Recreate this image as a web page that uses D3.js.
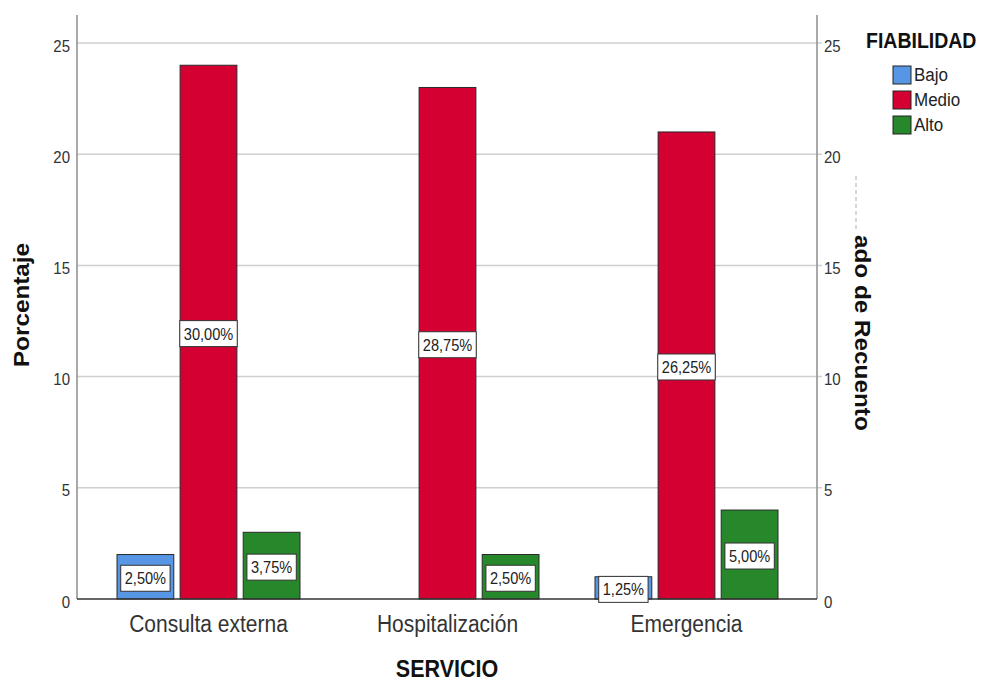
<!DOCTYPE html>
<html>
<head>
<meta charset="utf-8">
<script src="https://cdn.jsdelivr.net/npm/d3@7"></script>
<style>
  body { margin: 0; background: #fff; }
  svg { display: block; font-family: "Liberation Sans", Arial, sans-serif; }
</style>
</head>
<body>
<svg id="chart" width="993" height="682"></svg>
<script>
// Counts per service and reliability level (total n = 80)
const servicios = ["Consulta externa", "Hospitalización", "Emergencia"];
const niveles = ["Bajo", "Medio", "Alto"];
const bajo = [2, 0, 1];
const medio = [24, 23, 21];
const alto = [3, 2, 4];
const etiquetasBajo = ["2,50%", null, "1,25%"];
const etiquetasMedio = ["30,00%", "28,75%", "26,25%"];
const etiquetasAlto = ["3,75%", "2,50%", "5,00%"];
const yTicks = [0, 5, 10, 15, 20, 25];
const colores = ["#5696e4", "#d50032", "#27872b"];

const series = [bajo, medio, alto];
const etiquetas = [etiquetasBajo, etiquetasMedio, etiquetasAlto];

const svg = d3.select("#chart");
const axisLeftX = 77, axisRightX = 817, baseY = 599, topY = 43;
const SY = 1.13; // text is drawn slightly taller than wide

const x = d3.scaleBand().domain(servicios).range([89, 806]);
const sub = d3.scaleBand().domain(niveles).range([0, 183]).paddingInner(0.1);
const y = d3.scaleLinear().domain([0, 25]).range([baseY, topY]);

function label(parent, px, py, txt, size, opts = {}) {
  const rot = opts.rotate ? ` rotate(${opts.rotate})` : "";
  return parent.append("text")
    .attr("transform", `translate(${px},${py}) scale(1,${SY})${rot}`)
    .attr("text-anchor", opts.anchor || "start")
    .attr("font-size", size)
    .attr("font-weight", opts.bold ? "bold" : "normal")
    .attr("fill", opts.fill || "#333")
    .text(txt);
}

// gridlines
svg.append("g").selectAll("line").data(yTicks.filter(d => d > 0)).join("line")
  .attr("x1", axisLeftX).attr("x2", axisRightX + 5)
  .attr("y1", d => y(d)).attr("y2", d => y(d))
  .attr("stroke", "#cfcfcf").attr("stroke-width", 1.5);

// axis lines
svg.append("line").attr("x1", axisLeftX).attr("x2", axisLeftX)
  .attr("y1", 15).attr("y2", baseY).attr("stroke", "#949494").attr("stroke-width", 1.6);
svg.append("line").attr("x1", axisRightX).attr("x2", axisRightX)
  .attr("y1", 15).attr("y2", baseY).attr("stroke", "#949494").attr("stroke-width", 1.6);

// tick labels, left and right
const tl = svg.append("g");
yTicks.forEach(d => {
  label(tl, 70, y(d) + 8.5, d, 15, { anchor: "end" });
  label(tl, 824, y(d) + 8.5, d, 15, { anchor: "start" });
});

// bars
const groupOffset = (x.bandwidth() - 183) / 2;
series.forEach((vals, si) => {
  const g = svg.append("g");
  vals.forEach((v, ci) => {
    if (v <= 0) return;
    const bx = x(servicios[ci]) + groupOffset + sub(niveles[si]);
    g.append("rect")
      .attr("x", bx).attr("y", y(v))
      .attr("width", sub.bandwidth()).attr("height", baseY - y(v))
      .attr("fill", colores[si]).attr("stroke", "#2a2a2a").attr("stroke-width", 1);
  });
});

// baseline
svg.append("line").attr("x1", axisLeftX).attr("x2", axisRightX)
  .attr("y1", baseY).attr("y2", baseY).attr("stroke", "#333").attr("stroke-width", 1.5);

// value labels in boxes
series.forEach((vals, si) => {
  vals.forEach((v, ci) => {
    const txt = etiquetas[si][ci];
    if (!txt) return;
    const cx = x(servicios[ci]) + groupOffset + sub(niveles[si]) + sub.bandwidth() / 2;
    const cy = (y(v) + baseY) / 2 + 1.5;
    const g = svg.append("g");
    const t = label(g, cx, cy + 6, txt, 14.6, { anchor: "middle", fill: "#222" });
    const w = t.node().getComputedTextLength() + 8;
    g.insert("rect", "text")
      .attr("x", cx - w / 2).attr("y", cy - 13).attr("width", w).attr("height", 26)
      .attr("fill", "#fff").attr("stroke", "#333").attr("stroke-width", 1);
  });
});

// category labels
const cl = svg.append("g");
servicios.forEach(d => label(cl, x(d) + x.bandwidth() / 2, 632, d, 21, { anchor: "middle" }));

// axis titles
label(svg, 447, 677, "SERVICIO", 21.5, { anchor: "middle", bold: true, fill: "#111" });
label(svg, 29, 305, "Porcentaje", 21.5, { anchor: "middle", bold: true, fill: "#111", rotate: -90 });
label(svg, 855, 235, "ado de Recuento", 21.5, { anchor: "start", bold: true, fill: "#111", rotate: 90 });
svg.append("line").attr("x1", 856).attr("x2", 856).attr("y1", 176).attr("y2", 232)
  .attr("stroke", "#b0b0b0").attr("stroke-width", 1).attr("stroke-dasharray", "4,3");

// legend
label(svg, 866, 48, "FIABILIDAD", 19.5, { bold: true, fill: "#111" });
const lg = svg.append("g");
niveles.forEach((d, i) => {
  const ly = 66 + i * 25;
  lg.append("rect").attr("x", 893).attr("y", ly).attr("width", 18).attr("height", 18)
    .attr("fill", colores[i]).attr("stroke", "#222").attr("stroke-width", 1);
  label(lg, 914, ly + 15, d, 17, { fill: "#222" });
});
</script>
</body>
</html>
